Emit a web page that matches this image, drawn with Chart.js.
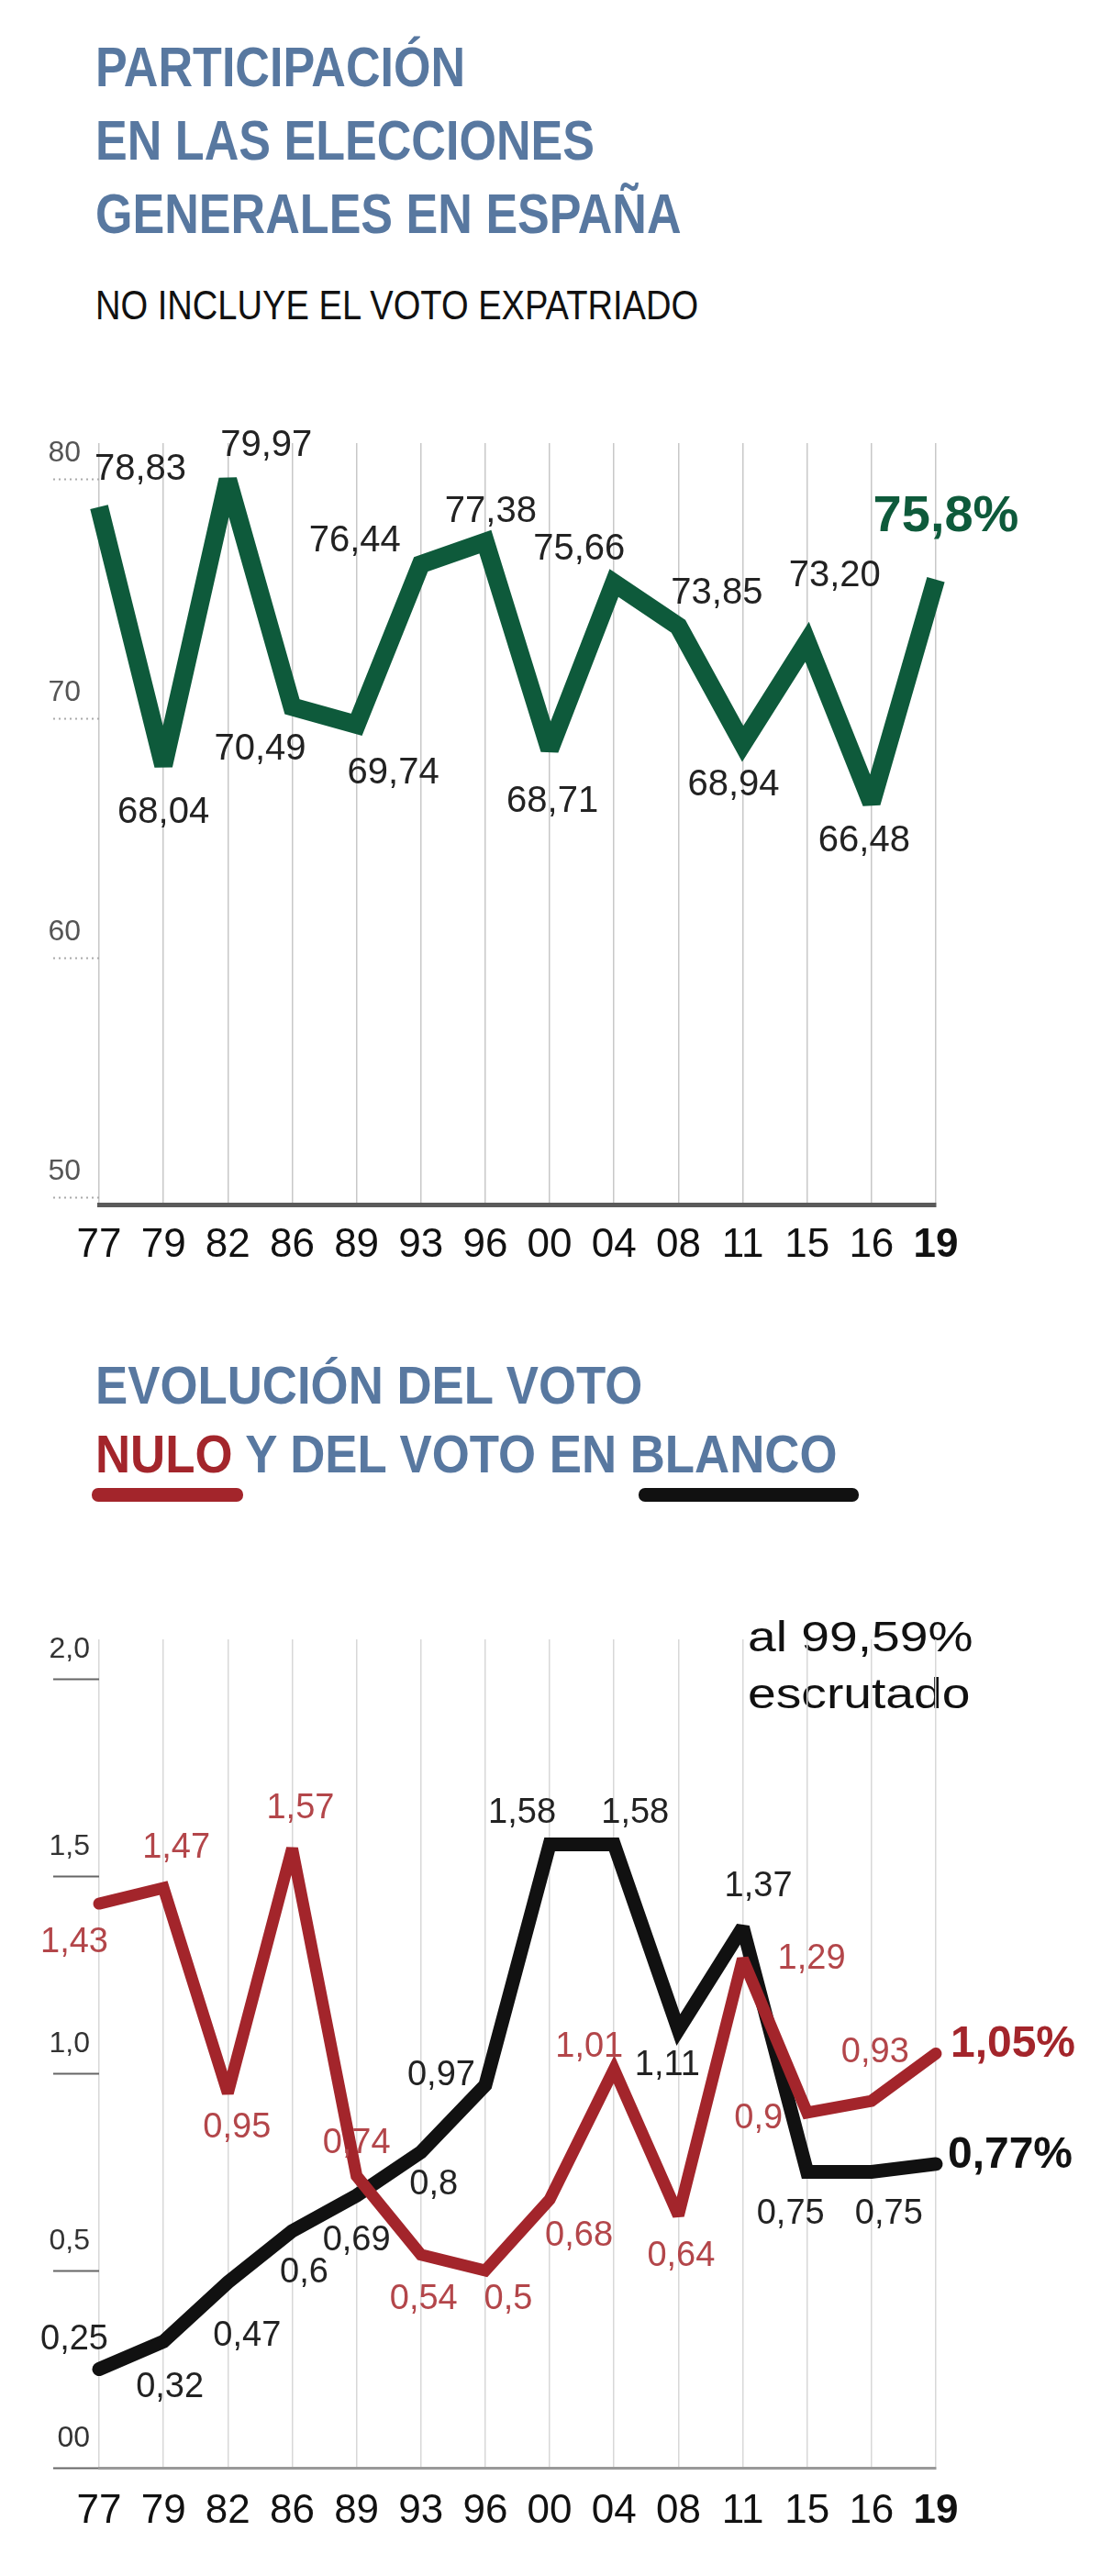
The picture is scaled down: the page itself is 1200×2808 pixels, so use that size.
<!DOCTYPE html>
<html lang="es">
<head>
<meta charset="utf-8">
<title>Participación en las elecciones generales en España</title>
<script src="https://cdn.jsdelivr.net/npm/chart.js@4.4.1/dist/chart.umd.min.js"></script>
<style>
  html, body { margin: 0; padding: 0; background: #fff; }
  body { position: relative; width: 1200px; height: 2808px; overflow: hidden; font-family: 'Liberation Sans', Arial, sans-serif; }
  .title { position: absolute; left: 104px; font-weight: bold; color: #5878a0; white-space: nowrap; transform-origin: 0 0; }
  #title1 { top: 33px; font-size: 62px; line-height: 80px; transform: scaleX(0.84); }
  #title2 { top: 1472px; font-size: 58px; line-height: 75px; transform: scaleX(0.91); }
  #title2 .nulo { color: #a3252b; }
  #subtitle { position: absolute; left: 104px; top: 308px; font-size: 44px; line-height: 50px; color: #111; white-space: nowrap; transform: scaleX(0.866); transform-origin: 0 0; }
  .bar { position: absolute; top: 1622px; height: 15px; border-radius: 7px; }
  #bar-nulo { left: 100px; width: 165px; background: #a3252b; }
  #bar-blanco { left: 696px; width: 240px; background: #111; }
  #note { position: absolute; left: 815px; top: 1753px; font-size: 46px; line-height: 62px; color: #111; white-space: nowrap; transform: scaleX(1.2); transform-origin: 0 0; }
  .box { position: absolute; left: 0; width: 1200px; }
  #box1 { top: 440px; height: 960px; }
  #box2 { top: 1700px; height: 1108px; }
</style>
</head>
<body>

<div id="title1" class="title">PARTICIPACIÓN<br>EN LAS ELECCIONES<br>GENERALES EN ESPAÑA</div>
<div id="subtitle">NO INCLUYE EL VOTO EXPATRIADO</div>
<div class="box" id="box1"><canvas id="turnoutChart"></canvas></div>

<div id="title2" class="title">EVOLUCIÓN DEL VOTO<br><span class="nulo">NULO</span> Y DEL VOTO EN BLANCO</div>
<div class="bar" id="bar-nulo"></div>
<div class="bar" id="bar-blanco"></div>
<div id="note">al 99,59%<br>escrutado</div>
<div class="box" id="box2"><canvas id="voteChart"></canvas></div>

<script>
// --- DATA ---
const years = ['77', '79', '82', '86', '89', '93', '96', '00', '04', '08', '11', '15', '16', '19'];

// participación (%)
const turnout = [78.83, 68.04, 79.97, 70.49, 69.74, 76.44, 77.38, 68.71, 75.66, 73.85, 68.94, 73.20, 66.48, 75.8];
const turnoutTicks = [50, 60, 70, 80];

// voto nulo / voto en blanco (%)
const nulo = [1.43, 1.47, 0.95, 1.57, 0.74, 0.54, 0.5, 0.68, 1.01, 0.64, 1.29, 0.9, 0.93, 1.05];
const blanco = [0.25, 0.32, 0.47, 0.6, 0.69, 0.8, 0.97, 1.58, 1.58, 1.11, 1.37, 0.75, 0.75, 0.77];
const voteTicks = [0, 0.5, 1, 1.5, 2];
const voteTickLabels = ['00', '0,5', '1,0', '1,5', '2,0'];

// where each value label sits, as [dx, dy] from its point
const turnoutLabelPos = [[45, -41], [0, 52], [42, -37], [-35, 47], [40, 53], [-72, -25], [6, -33],
                         [3, 57], [-38, -36], [42, -36], [-10, 45], [30, -72], [-8, 42], [11, -68]];
const nuloLabelPos = [[-27, 42], [14, -43], [10, 38], [9, -43], [0, -35], [3, 49], [25, 32],
                      [32, 40], [-27, -24], [3, 45], [75, 0], [-53, 7], [4, -53], [84, -10]];
const blancoLabelPos = [[-27, -32], [7, 50], [21, 59], [13, 46], [0, 49], [14, 36], [-48, -10],
                        [-30, -34], [23, -34], [-12, 39], [17, -44], [-18, 46], [19, 46], [81, -9]];

const FONT = "'Liberation Sans', Arial, sans-serif";
const GREEN = '#0e5a3b';
const RED = '#a3252b';
const BLACK = '#111111';

// --- PLUGINS ---
// keep sharp peaks from shooting far past their points
const joinLimit = {
    id: 'joinLimit',
    beforeDatasetsDraw(chart) { chart.ctx.miterLimit = 2.5; }
};

const pointLabels = {
    id: 'pointLabels',
    afterDatasetsDraw(chart) {
        const ctx = chart.ctx;
        chart.data.datasets.forEach((ds, di) => {
            const meta = chart.getDatasetMeta(di);
            const last = ds.data.length - 1;
            meta.data.forEach((pt, i) => {
                const [dx, dy] = ds.labelPos[i];
                const isLast = i === last;
                ctx.save();
                ctx.font = isLast ? ds.lastFont : ds.labelFont;
                ctx.fillStyle = isLast ? ds.borderColor : ds.labelColor;
                ctx.textAlign = 'center';
                ctx.textBaseline = 'middle';
                ctx.fillText(ds.format(ds.data[i], isLast), pt.x + dx, pt.y + dy);
                ctx.restore();
            });
        });
    }
};

const comma = s => s.replace('.', ',');

function xAxis(height, pad, borderColor, borderWidth, gridColor) {
    return {
        afterFit: s => { s.height = height; },
        grid: { color: gridColor, lineWidth: 1.5, drawTicks: false },
        border: { display: true, color: borderColor, width: borderWidth },
        ticks: {
            autoSkip: false, maxRotation: 0, padding: pad, color: '#111',
            font: c => ({ family: FONT, size: 44, weight: c.index === years.length - 1 ? 'bold' : 'normal' })
        }
    };
}

Chart.defaults.animation = false;
Chart.defaults.plugins.legend.display = false;
Chart.defaults.plugins.tooltip.enabled = false;

// --- CHART 1: participación ---
new Chart(document.getElementById('turnoutChart'), {
    type: 'line',
    data: {
        labels: years,
        datasets: [{
            data: turnout,
            borderColor: GREEN, borderWidth: 20, pointRadius: 0, tension: 0, clip: false,
            borderJoinStyle: 'miter',
            labelPos: turnoutLabelPos,
            labelColor: '#222',
            labelFont: `40px ${FONT}`,
            lastFont: `bold 56px ${FONT}`,
            format: (v, last) => last ? comma(v.toFixed(1)) + '%' : comma(v.toFixed(2))
        }]
    },
    options: {
        responsive: true, maintainAspectRatio: false,
        layout: { padding: { top: 43, right: 180, left: 0, bottom: 0 } },
        scales: {
            x: xAxis(87, 18, '#5a5a5a', 5, '#c8c8c8'),
            y: {
                min: 49.7, max: 81.5,
                afterBuildTicks: s => { s.ticks = turnoutTicks.map(v => ({ value: v })); },
                afterFit: s => { s.width = 108; },
                grid: { drawOnChartArea: false, tickLength: 50, tickColor: '#aaa', tickWidth: 2, tickBorderDash: [2, 4] },
                border: { display: false },
                ticks: { padding: -30, labelOffset: -28, color: '#555', font: { family: FONT, size: 32 }, callback: v => String(v) }
            }
        }
    },
    plugins: [joinLimit, pointLabels]
});

// --- CHART 2: voto nulo y en blanco ---
new Chart(document.getElementById('voteChart'), {
    type: 'line',
    data: {
        labels: years,
        datasets: [{
            data: nulo,
            borderColor: RED, borderWidth: 13, pointRadius: 0, tension: 0, clip: false,
            borderCapStyle: 'round',
            labelPos: nuloLabelPos,
            labelColor: '#b3464a',
            labelFont: `38px ${FONT}`,
            lastFont: `bold 48px ${FONT}`,
            format: (v, last) => comma(String(v)) + (last ? '%' : '')
        }, {
            data: blanco,
            borderColor: BLACK, borderWidth: 15, pointRadius: 0, tension: 0, clip: false,
            borderCapStyle: 'round',
            labelPos: blancoLabelPos,
            labelColor: '#222',
            labelFont: `38px ${FONT}`,
            lastFont: `bold 48px ${FONT}`,
            format: (v, last) => comma(String(v)) + (last ? '%' : '')
        }]
    },
    options: {
        responsive: true, maintainAspectRatio: false,
        layout: { padding: { top: 87, right: 180, left: 0, bottom: 0 } },
        scales: {
            x: xAxis(118, 21, '#999', 3, '#d8d8d8'),
            y: {
                min: 0, max: 2.1,
                afterBuildTicks: s => { s.ticks = voteTicks.map(v => ({ value: v })); },
                afterFit: s => { s.width = 108; },
                grid: { drawOnChartArea: false, tickLength: 50, tickColor: '#666', tickWidth: 2 },
                border: { display: false },
                ticks: { padding: -40, labelOffset: -32, color: '#333', font: { family: FONT, size: 32 }, callback: (v, i) => voteTickLabels[i] }
            }
        }
    },
    plugins: [joinLimit, pointLabels]
});
</script>
</body>
</html>
